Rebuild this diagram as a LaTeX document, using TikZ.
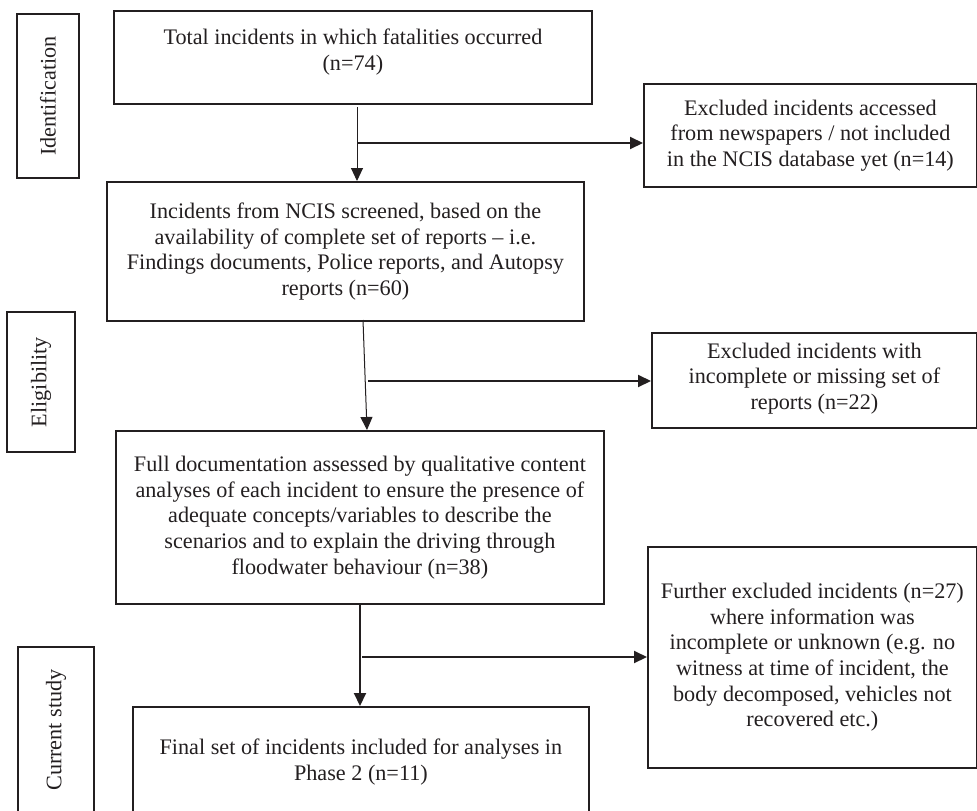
\documentclass[tikz,border=0pt]{standalone}
\usepackage{fontspec}
\setmainfont{Liberation Serif}
\usetikzlibrary{arrows.meta}
\definecolor{ink}{HTML}{231F20}
\begin{document}
\begin{tikzpicture}[x=1pt,y=-1pt,
  txt/.style={font={\fontsize{22.2}{25.7}\selectfont}, text=ink},
  box/.style={txt, draw=ink, line width=1.8pt, anchor=north west, align=center, inner sep=0pt},
  sidebox/.style={txt, draw=ink, line width=1.8pt, rotate=90, inner sep=0pt},
  arr/.style={draw=ink, -{Triangle[length=13pt,width=12pt]}},
  thinline/.style={line width=1pt},
  thickline/.style={line width=2pt}]
\useasboundingbox (0,0) rectangle (977,811);
\fill[white] (0,0) rectangle (977,811);
% left stage labels
\node[sidebox, minimum width=164pt, minimum height=62pt] (id) at (48,96) {Identification};
\node[sidebox, minimum width=140pt, minimum height=68pt] (el) at (41,382) {Eligibility};
\node[sidebox, minimum width=166pt, minimum height=76pt] (cs) at (56,730) {Current study};
% main boxes
\node[box, minimum width=478pt, minimum height=93pt] (b1) at (113,10)
  {Total incidents in which fatalities occurred\\(n=74)\\[-9.7pt]\mbox{}};
\node[box, minimum width=477pt, minimum height=139pt] (b2) at (106,181)
  {Incidents from NCIS screened, based on the\\availability of complete set of reports – i.e.\\Findings documents, Police reports, and Autopsy\\reports (n=60)};
\node[box, minimum width=488pt, minimum height=173pt] (b3) at (115,430)
  {Full documentation assessed by qualitative content\\analyses of each incident to ensure the presence of\\adequate concepts/variables to describe the\\scenarios and to explain the driving through\\floodwater behaviour (n=38)};
\node[box, minimum width=456pt, minimum height=110pt] (fin) at (132,706)
  {Final set of incidents included for analyses in\\Phase 2 (n=11)};
% exclusion boxes
\node[box, minimum width=333pt, minimum height=103pt] (e1) at (643,83)
  {Excluded incidents accessed\\from newspapers / not included\\in the NCIS database yet (n=14)};
\node[box, minimum width=325pt, minimum height=95pt] (e2) at (651,332)
  {\mbox{}\\[-14pt]Excluded incidents with\\incomplete or missing set of\\reports (n=22)};
\node[box, minimum width=329pt, minimum height=221pt] (e3) at (647,546)
  {Further excluded incidents (n=27)\\where information was\\incomplete or unknown (e.g. no\\witness at time of incident, the\\body decomposed, vehicles not\\recovered etc.)};
% connectors
\coordinate (a1s) at (357,107);
\coordinate (a1b) at (357,143);
\draw[arr, thinline] (a1s) -- (a1s |- b2.north);
\draw[arr, thickline] (a1b) -- (a1b -| e1.west);
\coordinate (a2s) at (363,320);
\coordinate (a2e) at (367,430);
\coordinate (a2b) at (368,381);
\draw[arr, thinline] (a2s) -- (a2e |- b3.north);
\draw[arr, thickline] (a2b) -- (a2b -| e2.west);
\coordinate (a3s) at (360,603);
\coordinate (a3b) at (362,657);
\draw[arr, thickline] (a3s) -- (a3s |- fin.north);
\draw[arr, thickline] (a3b) -- (a3b -| e3.west);
\end{tikzpicture}
\end{document}
